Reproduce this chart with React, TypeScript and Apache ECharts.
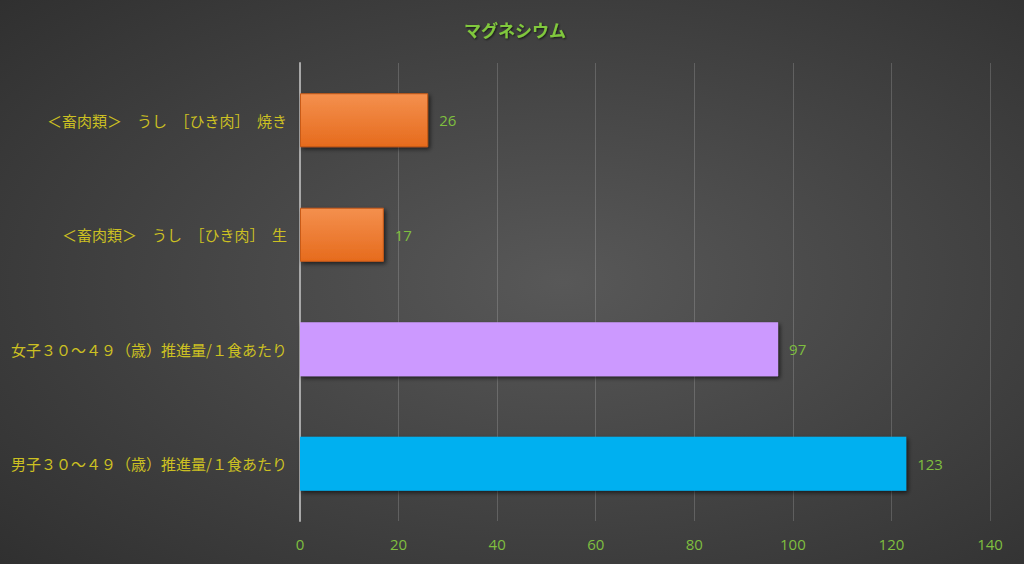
import React, { useEffect, useRef } from 'react';
import * as echarts from 'echarts';

// categories listed bottom to top
const categories = [
  '男子３０～４９（歳）推進量/１食あたり',
  '女子３０～４９（歳）推進量/１食あたり',
  '＜畜肉類＞　うし　［ひき肉］　生',
  '＜畜肉類＞　うし　［ひき肉］　焼き',
];
const values = [123, 97, 17, 26];
const xTicks = { min: 0, max: 140, interval: 20 };

const orange = new echarts.graphic.LinearGradient(0, 0, 0, 1, [
  { offset: 0, color: '#f4904e' },
  { offset: 1, color: '#e66b1d' },
]);
const barColors = ['#00b0f0', '#cc99ff', orange, orange];

const App: React.FC = () => {
  const chartRef = useRef<HTMLDivElement>(null);

  useEffect(() => {
    if (!chartRef.current) return;
    const chart = echarts.init(chartRef.current, undefined, { renderer: 'svg' });

    const option = {
      animation: false,
      backgroundColor: {
        type: 'radial',
        x: 0.55,
        y: 0.5,
        r: 1.0,
        colorStops: [
          { offset: 0, color: '#585858' },
          { offset: 1, color: '#222222' },
        ],
      },
      title: {
        text: 'マグネシウム',
        left: 510,
        top: 16,
        textAlign: 'center',
        textStyle: {
          color: '#80c83c',
          fontSize: 17,
          fontWeight: 'bold',
          fontFamily: '"Noto Sans CJK JP", sans-serif',
          textShadowColor: 'rgba(0,0,0,0.7)',
          textShadowBlur: 2,
          textShadowOffsetX: 1,
          textShadowOffsetY: 1,
        },
      },
      grid: { left: 300, right: 34, top: 63, bottom: 43 },
      xAxis: {
        type: 'value',
        min: xTicks.min,
        max: xTicks.max,
        interval: xTicks.interval,
        axisLine: { show: false },
        axisTick: { show: false },
        axisLabel: {
          color: '#7fbf3f',
          fontSize: 15,
          margin: 15,
          fontFamily: '"Open Sans", sans-serif',
        },
        splitLine: { lineStyle: { color: 'rgba(255,255,255,0.17)', width: 1 } },
      },
      yAxis: {
        type: 'category',
        data: categories,
        axisLine: { show: true, lineStyle: { color: '#a8a8a8', width: 2 } },
        axisTick: { show: false },
        axisLabel: {
          color: '#ccc022',
          fontSize: 15,
          margin: 13,
          fontFamily: '"Noto Sans CJK JP", sans-serif',
        },
      },
      series: [
        {
          type: 'bar',
          barWidth: 54,
          data: values.map((v, i) => ({
            value: v,
            itemStyle: {
              color: barColors[i],
              borderColor: i >= 2 ? '#c85a18' : undefined,
              borderWidth: i >= 2 ? 1 : 0,
            },
          })),
          itemStyle: {
            shadowColor: 'rgba(0,0,0,0.6)',
            shadowBlur: 4,
            shadowOffsetX: 2,
            shadowOffsetY: 2,
          },
          label: {
            show: true,
            position: 'right',
            distance: 11,
            color: '#7fbf3f',
            fontSize: 15,
            fontFamily: '"Open Sans", sans-serif',
          },
        },
      ],
    };

    chart.setOption(option as any);
    return () => {
      chart.dispose();
    };
  }, []);

  return (
    <div
      ref={chartRef}
      style={{ position: 'absolute', left: 0, top: 0, width: 1024, height: 564 }}
    />
  );
};

export default App;
